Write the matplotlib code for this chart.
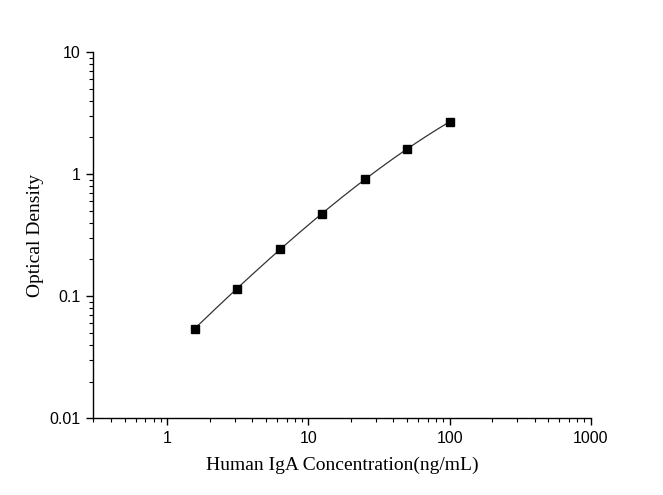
import numpy as np
import matplotlib
matplotlib.use("Agg")
import matplotlib.pyplot as plt
from matplotlib.ticker import LogLocator, FixedLocator, FixedFormatter, NullFormatter

conc = [1.5625, 3.125, 6.25, 12.5, 25, 50, 100]
od = [0.0542, 0.1154, 0.2414, 0.471, 0.908, 1.60, 2.68]
x_ticks = [1, 10, 100, 1000]
x_tick_labels = ["1", "10", "100", "1000"]
y_ticks = [0.01, 0.1, 1, 10]
y_tick_labels = ["0.01", "0.1", "1", "10"]

fig = plt.figure(figsize=(6.63, 4.95), dpi=100)
ax = fig.add_axes([0.141, 0.155, 0.750, 0.740])

# smooth fitted curve in log-log space
lx = np.log10(conc)
ly = np.log10(od)
coef = np.polyfit(lx, ly, 3)
xs = np.linspace(lx.min(), lx.max(), 200)
ax.plot(10**xs, 10**np.polyval(coef, xs), color="#333333", lw=0.9, zorder=2)
ax.plot(conc, od, linestyle="none", marker="s", markersize=5.8, color="black", zorder=3)

ax.set_xscale("log")
ax.set_yscale("log")
ax.set_xlim(0.3, 1000)
ax.set_ylim(0.01, 10)

ax.xaxis.set_major_locator(FixedLocator(x_ticks))
ax.xaxis.set_major_formatter(FixedFormatter(x_tick_labels))
ax.yaxis.set_major_locator(FixedLocator(y_ticks))
ax.yaxis.set_major_formatter(FixedFormatter(y_tick_labels))
ax.xaxis.set_minor_locator(LogLocator(base=10, subs=np.arange(2, 10)))
ax.yaxis.set_minor_locator(LogLocator(base=10, subs=np.arange(2, 10)))
ax.xaxis.set_minor_formatter(NullFormatter())
ax.yaxis.set_minor_formatter(NullFormatter())

for s in ["top", "right"]:
    ax.spines[s].set_visible(False)
for s in ["left", "bottom"]:
    ax.spines[s].set_linewidth(1.0)

ax.tick_params(which="major", direction="out", length=5, width=1.0,
               labelsize=11.5, pad=4)
ax.tick_params(which="minor", direction="out", length=3, width=0.8)
for lab in ax.get_xticklabels() + ax.get_yticklabels():
    lab.set_fontfamily("Liberation Sans")

ax.set_xlabel("Human IgA Concentration(ng/mL)", fontsize=14,
              fontfamily="Liberation Serif", labelpad=8)
ax.set_ylabel("Optical Density", fontsize=14,
              fontfamily="Liberation Serif", labelpad=4)

fig.savefig("out.png", dpi=100, facecolor="white")
